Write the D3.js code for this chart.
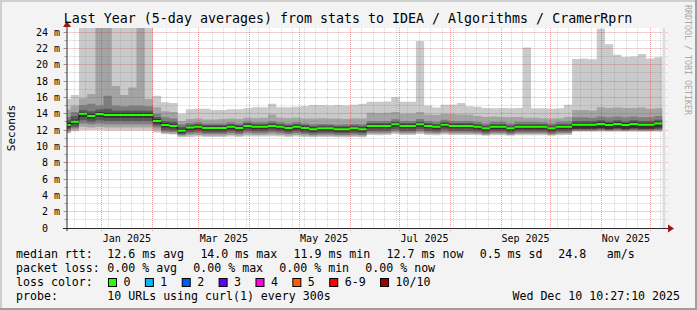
<!DOCTYPE html>
<html>
<head>
<meta charset="utf-8">
<script src="https://cdn.jsdelivr.net/npm/d3@7"></script>
<style>
  html, body { margin: 0; padding: 0; background: #f3f3f3; }
  svg { display: block; font-family: "DejaVu Sans Mono", monospace; }
</style>
</head>
<body>
<svg id="chart" width="697" height="310"></svg>
<script>
const titleText = "Last Year (5-day averages) from stats to IDEA / Algorithms / CramerRprn";
const endTime = Date.UTC(2025, 11, 10, 10, 27, 10);
const firstStep = Date.UTC(2024, 11, 8);
const stepDays = 5;

// median rtt per 5-day step (ms)
const median = [12.6,13.0,14.0,13.7,13.95,13.85,13.85,13.85,13.85,13.85,
  13.85,13.1,12.6,12.5,11.9,12.3,12.4,12.25,12.25,12.25,
  12.4,12.25,12.5,12.4,12.4,12.5,12.4,12.25,12.4,12.25,
  12.1,12.2,12.2,12.1,12.1,12.2,12.1,12.5,12.5,12.5,
  12.7,12.5,12.5,12.7,12.5,12.4,12.65,12.5,12.5,12.5,
  12.4,12.2,12.4,12.4,12.2,12.4,12.4,12.4,12.4,12.2,
  12.4,12.4,12.65,12.65,12.65,12.75,12.6,12.75,12.6,12.75,
  12.65,12.65,12.8];

// sorted ping values per step (ms), ping1 lowest ... ping10 highest
const ping1 = [11.6,11.85,12.0,12.0,12.0,11.95,11.95,11.95,11.95,11.95,
  11.95,11.7,11.5,11.45,11.1,11.15,11.2,11.15,11.15,11.15,
  11.2,11.15,11.25,11.2,11.2,11.25,11.2,11.15,11.2,11.15,
  11.1,11.15,11.15,11.1,11.1,11.15,11.1,11.4,11.35,11.4,
  11.5,11.4,11.4,11.5,11.4,11.35,11.45,11.4,11.4,11.4,
  11.35,11.3,11.35,11.35,11.3,11.35,11.35,11.35,11.35,11.3,
  11.35,11.4,11.8,11.8,11.8,11.8,11.8,11.8,11.8,11.8,
  11.8,11.8,11.8];
const ping2 = [11.7,12.0,12.4,12.3,12.4,12.3,12.3,12.3,12.3,12.3,
  12.3,12.0,11.6,11.55,11.25,11.35,11.4,11.3,11.3,11.3,
  11.4,11.3,11.45,11.4,11.4,11.45,11.4,11.3,11.4,11.3,
  11.25,11.3,11.3,11.25,11.25,11.3,11.25,11.55,11.5,11.55,
  11.7,11.55,11.55,11.7,11.55,11.5,11.6,11.55,11.55,11.55,
  11.5,11.4,11.5,11.5,11.4,11.5,11.5,11.5,11.5,11.4,
  11.5,11.55,11.9,11.9,11.9,11.9,11.9,11.9,11.9,11.9,
  11.9,11.9,11.9];
const ping3 = [11.9,12.2,12.8,12.7,12.8,12.7,12.7,12.7,12.7,12.7,
  12.7,12.3,11.8,11.75,11.4,11.55,11.6,11.5,11.5,11.5,
  11.6,11.5,11.7,11.6,11.6,11.7,11.6,11.5,11.6,11.5,
  11.4,11.45,11.45,11.4,11.4,11.45,11.4,11.7,11.7,11.7,
  11.85,11.7,11.7,11.85,11.7,11.65,11.8,11.7,11.7,11.7,
  11.65,11.5,11.65,11.65,11.5,11.65,11.65,11.65,11.65,11.5,
  11.65,11.65,11.95,11.95,11.95,12.0,11.95,12.0,11.95,12.0,
  11.95,11.95,12.0];
const ping4 = [12.1,12.4,13.2,13.0,13.2,13.1,13.1,13.1,13.1,13.1,
  13.1,12.55,12.0,11.95,11.5,11.75,11.85,11.7,11.7,11.7,
  11.85,11.7,11.95,11.85,11.85,11.95,11.85,11.7,11.85,11.7,
  11.6,11.65,11.65,11.6,11.6,11.65,11.6,11.9,11.9,11.9,
  12.1,11.9,11.9,12.1,11.9,11.85,12.05,11.9,11.9,11.9,
  11.85,11.7,11.85,11.85,11.7,11.85,11.85,11.85,11.85,11.7,
  11.85,11.85,12.05,12.05,12.05,12.1,12.05,12.1,12.05,12.1,
  12.05,12.05,12.1];
const ping5 = [12.3,12.7,13.6,13.4,13.6,13.5,13.5,13.5,13.5,13.5,
  13.5,12.8,12.3,12.2,11.65,12.0,12.1,11.95,11.95,11.95,
  12.1,11.95,12.2,12.1,12.1,12.2,12.1,11.95,12.1,11.95,
  11.8,11.9,11.9,11.8,11.8,11.9,11.8,12.2,12.2,12.2,
  12.4,12.2,12.2,12.4,12.2,12.1,12.35,12.2,12.2,12.2,
  12.1,11.9,12.1,12.1,11.9,12.1,12.1,12.1,12.1,11.9,
  12.1,12.1,12.15,12.15,12.15,12.25,12.1,12.25,12.1,12.25,
  12.15,12.15,12.3];
const ping6 = [12.9,13.3,14.2,14.0,14.2,14.1,14.1,14.1,14.1,14.1,
  14.1,13.35,12.85,12.75,12.15,12.5,12.6,12.45,12.45,12.45,
  12.6,12.45,12.7,12.6,12.6,12.7,12.6,12.45,12.6,12.45,
  12.3,12.4,12.4,12.3,12.3,12.4,12.3,12.7,12.7,12.7,
  12.9,12.7,12.7,12.9,12.7,12.6,12.85,12.7,12.7,12.7,
  12.6,12.4,12.6,12.6,12.4,12.6,12.6,12.6,12.6,12.4,
  12.6,12.6,12.9,12.9,12.9,13.0,12.85,13.0,12.85,13.0,
  12.9,12.9,13.05];
const ping7 = [13.2,13.7,14.45,14.3,14.5,14.6,14.4,14.4,14.4,14.4,
  14.35,13.6,13.1,13.0,12.4,12.65,12.75,12.6,12.6,12.6,
  12.75,12.6,12.85,12.75,12.75,12.85,12.75,12.6,12.75,12.6,
  12.45,12.55,12.55,12.45,12.45,12.55,12.45,12.85,12.85,12.85,
  13.05,12.85,12.85,13.05,12.85,12.75,13.0,12.85,12.85,12.85,
  12.75,12.55,12.75,12.75,12.55,12.75,12.75,12.75,12.75,12.55,
  12.75,12.75,13.1,13.1,13.1,13.2,13.05,13.2,13.05,13.2,
  13.1,13.1,13.25];
const ping8 = [13.6,14.2,15.05,15.2,15.0,16.2,15.0,14.9,15.0,15.0,
  14.9,14.0,13.55,13.4,12.7,12.85,12.95,12.8,12.8,12.8,
  12.95,12.8,13.05,12.95,12.95,13.1,12.95,12.8,12.95,12.8,
  12.7,12.75,12.75,12.65,12.7,12.75,12.7,13.1,13.1,13.1,
  13.35,13.1,13.1,13.35,13.1,13.0,13.25,13.1,13.1,13.1,
  13.0,12.8,13.0,13.0,12.8,13.0,13.0,13.0,12.95,12.8,
  13.0,13.05,13.55,13.55,13.5,13.65,13.55,13.65,13.55,13.65,
  13.55,13.55,13.7];
const ping9 = [14.5,15.0,15.9,16.4,26,26,17.4,16.3,17.2,26,
  15.8,14.8,14.3,14.2,13.1,13.35,13.4,13.3,13.3,13.35,
  13.4,13.35,13.5,13.45,13.5,13.9,13.5,13.45,13.5,13.4,
  13.4,13.45,13.4,13.4,13.35,13.45,13.4,14.1,14.05,14.1,
  14.2,14.0,14.0,14.2,13.9,13.85,14.0,13.95,13.9,13.9,
  13.7,13.6,13.65,13.6,13.55,13.6,13.5,13.5,13.45,13.4,
  13.45,13.6,14.45,14.45,14.4,14.8,14.7,14.75,14.7,14.7,
  14.75,14.6,14.65];
const ping10 = [15.8,16.3,26,26,26,26,26,26,26,26,
  26,16.2,15.4,15.3,14.0,14.55,14.6,14.6,14.45,14.45,
  14.55,14.55,14.65,14.8,14.8,15.2,14.8,14.8,14.85,14.95,
  15.05,15.05,15.0,15.05,15.0,15.1,15.2,15.45,15.45,15.5,
  16.0,15.45,15.45,22.9,15.0,14.75,15.1,15.1,15.3,14.9,
  14.85,14.7,14.65,14.7,14.65,14.7,22.1,14.65,14.65,14.6,
  14.65,15.1,20.7,20.75,20.65,24.4,22.5,21.2,20.95,21.0,
  21.3,20.75,20.9];

const yMax = 24.49;
const yTicks = [0, 2, 4, 6, 8, 10, 12, 14, 16, 18, 20, 22, 24];
const smokeGrays = ["#cacaca", "#a4a4a4", "#7e7e7e", "#585858", "#323232"];

const rttStats = ["12.6 ms avg", "14.0 ms max", "11.9 ms min", "12.7 ms now", "0.5 ms sd"];
const lossStats = ["0.00 % avg", "0.00 % max", "0.00 % min", "0.00 % now"];
const lossLabels = ["0", "1", "2", "3", "4", "5", "6-9", "10/10"];
const lossColors = ["#26ff00", "#00b8ff", "#0059ff", "#5e00ff", "#ff00de", "#ff5e00", "#ff0000", "#a10000"];
const probeText = "10 URLs using curl(1) every 300s";
const stampText = "Wed Dec 10 10:27:10 2025";

const W = 697, H = 310;
const plot = {left: 66.5, right: 666.5, top: 28, bottom: 228};
const DAY = 86400000;
const startTime = endTime - 365 * DAY;

const svg = d3.select("#chart");

// background with rrdtool style shading
svg.append("rect").attr("width", W).attr("height", H).attr("fill", "#f3f3f3");
svg.append("rect").attr("x", 0).attr("y", 0).attr("width", W).attr("height", 2).attr("fill", "#cfcfcf");
svg.append("rect").attr("x", 0).attr("y", 0).attr("width", 2).attr("height", H).attr("fill", "#cfcfcf");
svg.append("rect").attr("x", 0).attr("y", H - 2).attr("width", W).attr("height", 2).attr("fill", "#9e9e9e");
svg.append("rect").attr("x", W - 2).attr("y", 0).attr("width", 2).attr("height", H).attr("fill", "#9e9e9e");

const x = d3.scaleUtc()
  .domain([new Date(startTime), new Date(endTime)])
  .range([plot.left, plot.right]);

const y = d3.scaleLinear()
  .domain([0, yMax])
  .range([plot.bottom, plot.top]);

svg.append("rect")
  .attr("x", plot.left).attr("y", plot.top)
  .attr("width", plot.right - plot.left).attr("height", plot.bottom - plot.top)
  .attr("fill", "#ffffff");

svg.append("clipPath").attr("id", "clip")
  .append("rect")
  .attr("x", 67).attr("y", plot.top)
  .attr("width", plot.right - 67).attr("height", plot.bottom - plot.top);

// step data
const steps = median.map((m, i) => ({
  t: new Date(firstStep + i * stepDays * DAY),
  med: m,
  p: [ping1[i], ping2[i], ping3[i], ping4[i], ping5[i], ping6[i], ping7[i], ping8[i], ping9[i], ping10[i]]
}));
const lastEnd = new Date(firstStep + steps.length * stepDays * DAY);
const stepsClosed = steps.concat([{...steps[steps.length - 1], t: lastEnd}]);

// smoke
const smoke = svg.append("g").attr("clip-path", "url(#clip)");
smokeGrays.forEach((color, b) => {
  const area = d3.area()
    .x(d => x(d.t))
    .y0(d => y(d.p[b]))
    .y1(d => y(d.p[9 - b]))
    .curve(d3.curveStepAfter);
  smoke.append("path")
    .datum(stepsClosed)
    .attr("d", area)
    .attr("fill", color);
});

// grid, drawn translucent over the smoke
const grid = svg.append("g");
const px = v => Math.floor(v) + 0.5;
const minorColor = "rgba(120,120,120,0.32)";
const majorColor = "rgba(200,30,30,0.42)";

for (let v = 1; v <= 24; v++) {
  const major = v % 2 === 0;
  grid.append("line")
    .attr("x1", plot.left).attr("x2", plot.right + 1)
    .attr("y1", px(y(v))).attr("y2", px(y(v)))
    .attr("stroke", major ? majorColor : minorColor)
    .attr("stroke-dasharray", "1,1");
  grid.append("line")
    .attr("x1", plot.left - (major ? 3 : 2)).attr("x2", plot.left)
    .attr("y1", px(y(v))).attr("y2", px(y(v)))
    .attr("stroke", major ? "#c88080" : "#a0a0a0");
}

const months = d3.utcMonth.range(new Date(startTime), new Date(endTime));
const weeks = d3.utcSunday.range(new Date(startTime), new Date(endTime))
  .filter(w => !months.some(m => Math.abs(x(m) - x(w)) < 2));

weeks.forEach(w => {
  grid.append("line")
    .attr("x1", px(x(w))).attr("x2", px(x(w)))
    .attr("y1", plot.top).attr("y2", plot.bottom + 2)
    .attr("stroke", minorColor)
    .attr("stroke-dasharray", "1,1");
});
months.forEach(m => {
  grid.append("line")
    .attr("x1", px(x(m))).attr("x2", px(x(m)))
    .attr("y1", plot.top).attr("y2", plot.bottom + 3)
    .attr("stroke", majorColor)
    .attr("stroke-dasharray", "1,1");
});

// median
const medLayer = svg.append("g").attr("clip-path", "url(#clip)");
medLayer.append("path")
  .datum(stepsClosed)
  .attr("d", d3.line().x(d => x(d.t)).y(d => y(d.med)).curve(d3.curveStepAfter))
  .attr("fill", "none")
  .attr("stroke", "#202020")
  .attr("stroke-width", 1);

medLayer.append("path")
  .datum(stepsClosed)
  .attr("d", d3.area()
    .x(d => x(d.t))
    .y0(d => y(d.med) + 1)
    .y1(d => y(d.med) - 1)
    .curve(d3.curveStepAfter))
  .attr("fill", lossColors[0]);

// unknown tail
svg.append("rect")
  .attr("x", x(lastEnd)).attr("y", plot.top)
  .attr("width", 3).attr("height", plot.bottom - plot.top)
  .attr("fill", "#dddddd");

// axes
const axisColor = "#2a2a2a";
svg.append("line")
  .attr("x1", 63).attr("x2", 670)
  .attr("y1", plot.bottom + 0.5).attr("y2", plot.bottom + 0.5)
  .attr("stroke", axisColor);
svg.append("line")
  .attr("x1", plot.left + 0.5).attr("x2", plot.left + 0.5)
  .attr("y1", plot.bottom + 3).attr("y2", 25)
  .attr("stroke", axisColor);
svg.append("path")
  .attr("d", "M668,224.5 L674,228.5 L668,232.5 Z")
  .attr("fill", "#9a1a1a");
svg.append("path")
  .attr("d", "M63,27 L67,21 L71,27 Z")
  .attr("fill", "#9a1a1a");

// y labels
svg.append("g").selectAll("text")
  .data(yTicks)
  .join("text")
  .attr("x", 60)
  .attr("y", d => y(d) + 3.6)
  .attr("text-anchor", "end")
  .attr("font-size", "10px")
  .attr("fill", "#000")
  .text(d => d === 0 ? "0\u00a0\u00a0" : d + "\u00a0m");

// x labels every second month, centred on the month
const labelMonths = months.filter(m => m.getUTCMonth() % 2 === 0);
svg.append("g").selectAll("text")
  .data(labelMonths)
  .join("text")
  .attr("x", d => (x(d) + x(d3.utcMonth.offset(d, 1))) / 2 - 0.5)
  .attr("y", plot.bottom + 13.5)
  .attr("text-anchor", "middle")
  .attr("font-size", "10px")
  .attr("fill", "#000")
  .text(d3.utcFormat("%b %Y"));

// titles
svg.append("text")
  .attr("x", 348).attr("y", 23)
  .attr("text-anchor", "middle")
  .attr("font-size", "13.3px")
  .attr("fill", "#000")
  .text(titleText);

svg.append("text")
  .attr("transform", "translate(15,128) rotate(-90)")
  .attr("text-anchor", "middle")
  .attr("font-size", "11px")
  .attr("fill", "#000")
  .text("Seconds");

svg.append("text")
  .attr("transform", "translate(685,5) rotate(90)")
  .attr("font-size", "8.3px")
  .attr("fill", "#a8a8a8")
  .text("RRDTOOL / TOBI OETIKER");

// legend
const legend = svg.append("g").attr("font-size", "11.6px").attr("fill", "#000")
  .style("white-space", "pre");
const charW = 6.97;
const addText = (tx, ty, s, anchor) => legend.append("text")
  .attr("x", tx).attr("y", ty)
  .attr("text-anchor", anchor || "start")
  .attr("xml:space", "preserve")
  .text(s);

addText(16, 258, "median rtt:");
rttStats.forEach((s, i) => addText(107.3 + i * 93.1, 258, s));
addText(558.3, 258, "24.8");
addText(606.7, 258, "am/s");

addText(16, 272, "packet loss:");
lossStats.forEach((s, i) => addText(107.3 + i * 86, 272, s));

addText(16, 286, "loss color:");
let bx = 108.5;
lossLabels.forEach((lab, i) => {
  legend.append("rect")
    .attr("x", bx).attr("y", 278.5)
    .attr("width", 8).attr("height", 8)
    .attr("fill", lossColors[i])
    .attr("stroke", "#000").attr("stroke-width", 1);
  addText(bx + 15, 286, lab);
  bx += 15 + lab.length * charW + 14.9;
});

addText(16, 300, "probe:");
addText(107.3, 300, probeText);
addText(680, 300, stampText, "end");
</script>
</body>
</html>
